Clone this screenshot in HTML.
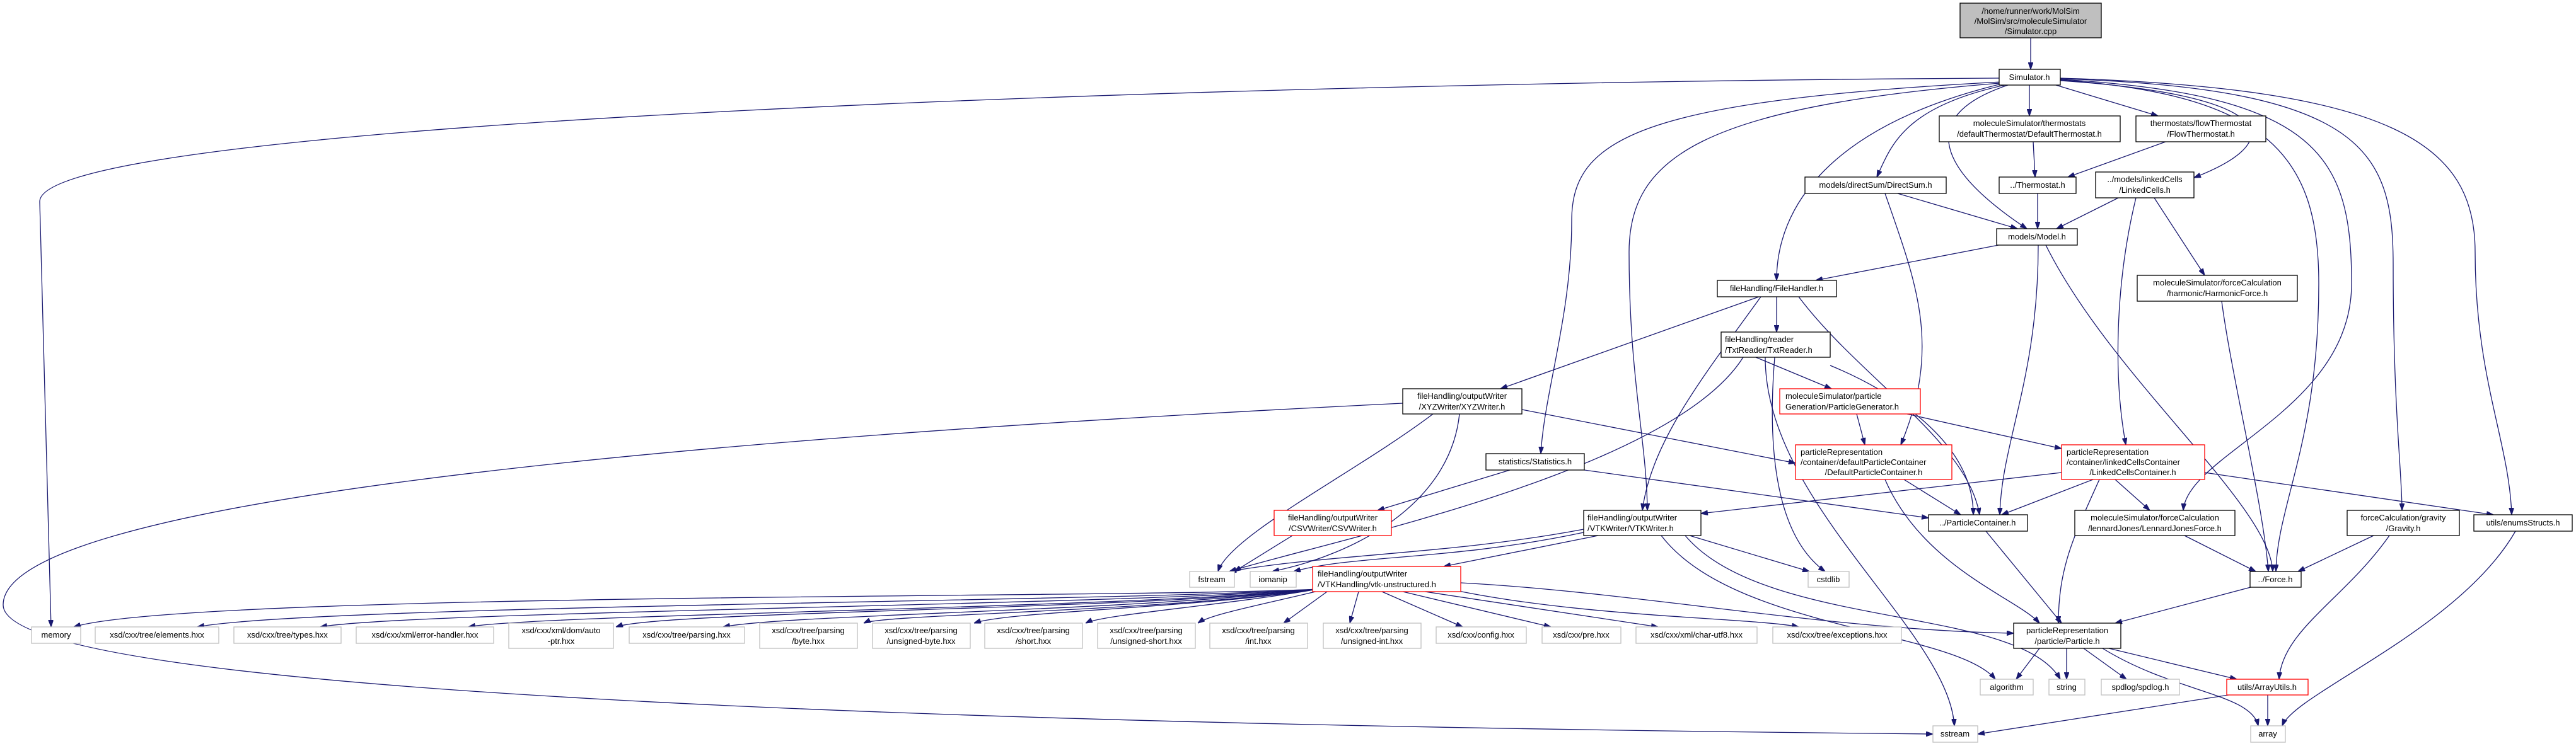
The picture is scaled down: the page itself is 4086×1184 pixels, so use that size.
<!DOCTYPE html>
<html><head><meta charset="utf-8"><style>
html,body{margin:0;padding:0;background:#fff;}
svg{display:block;}
text{font-family:"Liberation Sans",sans-serif;font-size:13px;fill:#000;}
.n{fill:#fff;stroke:#000;stroke-width:1.3}
.g{fill:#fff;stroke:#bfbfbf;stroke-width:1.3}
.r{fill:#fff;stroke:#ff0000;stroke-width:1.3}
.e path{fill:none;stroke:#191970;stroke-width:1.3;marker-end:url(#a)}
</style></head><body>
<svg width="4086" height="1184" viewBox="0 0 4086 1184" xmlns="http://www.w3.org/2000/svg">
<defs><marker id="a" viewBox="0 0 10 7" refX="10" refY="3.5" markerWidth="11" markerHeight="8" markerUnits="userSpaceOnUse" orient="auto"><path d="M0,0 L10,3.5 L0,7 z" fill="#191970" stroke="#191970"/></marker></defs>
<g class="e">
<path d="M3221 60 L3221 110"/>
<path d="M3171 124 C2000 130, 63 190, 63 320 L81 995"/>
<path d="M3175 130 C2600 160, 2493 220, 2493 350 C2493 500, 2450 620, 2444 720"/>
<path d="M3172 132 C2700 170, 2584 250, 2584 400 C2584 600, 2612 700, 2613 810"/>
<path d="M3175 133 C2900 200, 2818 330, 2818 445"/>
<path d="M3180 135 C3020 170, 3000 230, 2977 281"/>
<path d="M3185 135 C3050 180, 3060 260, 3215 363"/>
<path d="M3219 135 L3219 184"/>
<path d="M3261 135 L3423 184"/>
<path d="M3268 128 C3600 150, 3640 220, 3480 282"/>
<path d="M3268 127 C3600 150, 3678 250, 3678 450 C3678 700, 3612 800, 3610 907"/>
<path d="M3268 126 C3680 150, 3730 250, 3730 450 C3730 650, 3470 720, 3463 810"/>
<path d="M3268 125 C3750 140, 3796 240, 3796 420 C3796 650, 3810 750, 3810 810"/>
<path d="M3268 124 C3800 140, 3926 230, 3926 400 C3926 600, 3980 700, 3984 817"/>
<path d="M3225 225 L3228 281"/>
<path d="M3435 225 L3280 281"/>
<path d="M3232 307 L3232 363"/>
<path d="M3010 307 L3200 363"/>
<path d="M2990 307 C3040 450, 3080 550, 3015 706"/>
<path d="M3360 314 L3262 363"/>
<path d="M3388 314 C3355 450, 3352 600, 3372 706"/>
<path d="M3417 314 L3497 437"/>
<path d="M3524 478 C3540 600, 3590 800, 3598 907"/>
<path d="M3170 389 L2880 445"/>
<path d="M3233 389 C3233 600, 3175 700, 3172 817"/>
<path d="M3245 389 C3350 600, 3600 800, 3605 907"/>
<path d="M2818 471 L2818 527"/>
<path d="M2790 471 L2380 617"/>
<path d="M2793 471 C2700 600, 2620 700, 2605 810"/>
<path d="M2853 471 C2950 600, 3120 700, 3140 817"/>
<path d="M2765 567 C2650 750, 2100 860, 1950 907"/>
<path d="M2785 567 L2905 617"/>
<path d="M2815 567 C2800 750, 2830 860, 2895 907"/>
<path d="M2800 567 C2800 800, 3090 1000, 3100 1152"/>
<path d="M2903 580 C3000 620, 3130 700, 3130 817"/>
<path d="M2273 657 C2150 750, 1950 850, 1932 907"/>
<path d="M2315 657 C2300 800, 2150 880, 2018 907"/>
<path d="M2414 650 L2848 735"/>
<path d="M2225 640 C1000 700, 5 800, 5 960 C5 1100, 1500 1150, 3066 1165"/>
<path d="M2945 657 L2958 706"/>
<path d="M3025 657 L3270 712"/>
<path d="M2395 746 L2185 810"/>
<path d="M2513 746 L3059 822"/>
<path d="M2050 850 L1958 907"/>
<path d="M3020 761 L3110 817"/>
<path d="M2990 761 C3050 900, 3200 950, 3235 989"/>
<path d="M3270 750 L2698 815"/>
<path d="M3320 761 L3175 817"/>
<path d="M3355 761 L3410 810"/>
<path d="M3330 761 C3290 850, 3265 900, 3265 989"/>
<path d="M3497 750 L3955 817"/>
<path d="M2512 840 C2300 880, 2100 880, 1950 907"/>
<path d="M2512 845 C2300 890, 2150 880, 2052 907"/>
<path d="M2535 850 L2290 899"/>
<path d="M2635 850 C2750 1000, 3100 1000, 3165 1078"/>
<path d="M2673 850 C2800 1000, 3200 960, 3268 1078"/>
<path d="M2680 850 L2870 907"/>
<path d="M2317 925 C2600 940, 2900 1000, 3194 1005"/>
<path d="M3150 843 L3270 989"/>
<path d="M3465 850 L3578 907"/>
<path d="M3765 850 L3645 907"/>
<path d="M3790 850 C3720 950, 3620 1000, 3615 1078"/>
<path d="M3990 843 C3900 1000, 3640 1100, 3620 1152"/>
<path d="M3570 932 L3355 989"/>
<path d="M3235 1029 L3198 1078"/>
<path d="M3278 1029 L3278 1078"/>
<path d="M3305 1029 L3373 1078"/>
<path d="M3345 1029 L3548 1078"/>
<path d="M3335 1029 C3450 1100, 3570 1100, 3582 1152"/>
<path d="M3535 1103 L3137 1165"/>
<path d="M3597 1103 L3597 1152"/>
<path d="M2090 935 C1800 950, 300 940, 117 995"/>
<path d="M2090 935 C1800 955, 500 960, 313 995"/>
<path d="M2090 935 C1800 960, 650 970, 508 995"/>
<path d="M2090 935 C1800 965, 850 975, 743 995"/>
<path d="M2090 935 C1800 968, 1050 970, 977 995"/>
<path d="M2090 935 C1800 970, 1250 975, 1147 995"/>
<path d="M2090 935 C1850 970, 1400 975, 1370 989"/>
<path d="M2090 935 C1900 965, 1600 970, 1545 989"/>
<path d="M2090 935 C1950 960, 1750 975, 1722 989"/>
<path d="M2095 937 C2000 960, 1920 975, 1900 989"/>
<path d="M2105 939 L2036 989"/>
<path d="M2155 939 L2141 989"/>
<path d="M2192 939 L2320 995"/>
<path d="M2225 939 L2460 995"/>
<path d="M2260 939 L2630 995"/>
<path d="M2290 933 C2500 980, 2780 980, 2853 995"/>
</g>
<g>
<rect x="3109" y="5" width="224" height="55" fill="#bfbfbf" stroke="#000" stroke-width="1.3"/>
<text x="3221" y="22" text-anchor="middle">/home/runner/work/MolSim</text><text x="3221" y="38" text-anchor="middle">/MolSim/src/moleculeSimulator</text><text x="3221" y="54" text-anchor="middle">/Simulator.cpp</text>
<rect class="n" x="3171" y="110" width="97" height="25"/><text x="3219" y="127" text-anchor="middle">Simulator.h</text>
<rect class="n" x="3076" y="184" width="287" height="41"/><text x="3219" y="200" text-anchor="middle">moleculeSimulator/thermostats</text><text x="3219" y="217" text-anchor="middle">/defaultThermostat/DefaultThermostat.h</text>
<rect class="n" x="3388" y="184" width="206" height="41"/><text x="3491" y="200" text-anchor="middle">thermostats/flowThermostat</text><text x="3491" y="217" text-anchor="middle">/FlowThermostat.h</text>
<rect class="n" x="2863" y="281" width="224" height="26"/><text x="2975" y="298" text-anchor="middle">models/directSum/DirectSum.h</text>
<rect class="n" x="3171" y="281" width="122" height="26"/><text x="3232" y="298" text-anchor="middle">../Thermostat.h</text>
<rect class="n" x="3324" y="273" width="156" height="41"/><text x="3402" y="289" text-anchor="middle">../models/linkedCells</text><text x="3402" y="306" text-anchor="middle">/LinkedCells.h</text>
<rect class="n" x="3167" y="363" width="128" height="26"/><text x="3231" y="380" text-anchor="middle">models/Model.h</text>
<rect class="n" x="2724" y="445" width="189" height="26"/><text x="2818" y="462" text-anchor="middle">fileHandling/FileHandler.h</text>
<rect class="n" x="3390" y="437" width="254" height="41"/><text x="3517" y="453" text-anchor="middle">moleculeSimulator/forceCalculation</text><text x="3517" y="470" text-anchor="middle">/harmonic/HarmonicForce.h</text>
<rect class="n" x="2730" y="527" width="173" height="40"/><text x="2736" y="543">fileHandling/reader</text><text x="2736" y="560">/TxtReader/TxtReader.h</text>
<rect class="n" x="2225" y="617" width="189" height="40"/><text x="2319" y="633" text-anchor="middle">fileHandling/outputWriter</text><text x="2319" y="650" text-anchor="middle">/XYZWriter/XYZWriter.h</text>
<rect class="r" x="2823" y="617" width="223" height="40"/><text x="2832" y="633">moleculeSimulator/particle</text><text x="2832" y="650">Generation/ParticleGenerator.h</text>
<rect class="n" x="2357" y="720" width="156" height="26"/><text x="2435" y="737" text-anchor="middle">statistics/Statistics.h</text>
<rect class="r" x="2848" y="706" width="248" height="55"/><text x="2856" y="722">particleRepresentation</text><text x="2856" y="738">/container/defaultParticleContainer</text><text x="2972" y="754" text-anchor="middle">/DefaultParticleContainer.h</text>
<rect class="r" x="3270" y="706" width="227" height="55"/><text x="3278" y="722">particleRepresentation</text><text x="3278" y="738">/container/linkedCellsContainer</text><text x="3383" y="754" text-anchor="middle">/LinkedCellsContainer.h</text>
<rect class="r" x="2021" y="810" width="186" height="40"/><text x="2114" y="826" text-anchor="middle">fileHandling/outputWriter</text><text x="2114" y="843" text-anchor="middle">/CSVWriter/CSVWriter.h</text>
<rect class="n" x="2512" y="810" width="186" height="40"/><text x="2518" y="826">fileHandling/outputWriter</text><text x="2518" y="843">/VTKWriter/VTKWriter.h</text>
<rect class="n" x="3059" y="817" width="157" height="26"/><text x="3137" y="834" text-anchor="middle">../ParticleContainer.h</text>
<rect class="n" x="3291" y="810" width="254" height="40"/><text x="3418" y="826" text-anchor="middle">moleculeSimulator/forceCalculation</text><text x="3418" y="843" text-anchor="middle">/lennardJones/LennardJonesForce.h</text>
<rect class="n" x="3723" y="810" width="178" height="40"/><text x="3812" y="826" text-anchor="middle">forceCalculation/gravity</text><text x="3812" y="843" text-anchor="middle">/Gravity.h</text>
<rect class="n" x="3924" y="817" width="156" height="26"/><text x="4002" y="834" text-anchor="middle">utils/enumsStructs.h</text>
<rect class="g" x="1887" y="907" width="71" height="25"/><text x="1922" y="924" text-anchor="middle">fstream</text>
<rect class="g" x="1983" y="907" width="73" height="25"/><text x="2019" y="924" text-anchor="middle">iomanip</text>
<rect class="g" x="2868" y="907" width="65" height="25"/><text x="2900" y="924" text-anchor="middle">cstdlib</text>
<rect class="n" x="3569" y="907" width="81" height="25"/><text x="3609" y="924" text-anchor="middle">../Force.h</text>
<rect class="r" x="2082" y="899" width="235" height="40"/><text x="2090" y="915">fileHandling/outputWriter</text><text x="2090" y="932">/VTKHandling/vtk-unstructured.h</text>
<rect class="g" x="50" y="995" width="78" height="26"/><text x="89" y="1012" text-anchor="middle">memory</text>
<rect class="g" x="151" y="995" width="196" height="26"/><text x="249" y="1012" text-anchor="middle">xsd/cxx/tree/elements.hxx</text>
<rect class="g" x="371" y="995" width="170" height="26"/><text x="456" y="1012" text-anchor="middle">xsd/cxx/tree/types.hxx</text>
<rect class="g" x="565" y="995" width="218" height="26"/><text x="674" y="1012" text-anchor="middle">xsd/cxx/xml/error-handler.hxx</text>
<rect class="g" x="807" y="989" width="166" height="40"/><text x="890" y="1005" text-anchor="middle">xsd/cxx/xml/dom/auto</text><text x="890" y="1022" text-anchor="middle">-ptr.hxx</text>
<rect class="g" x="998" y="995" width="183" height="26"/><text x="1089" y="1012" text-anchor="middle">xsd/cxx/tree/parsing.hxx</text>
<rect class="g" x="1205" y="989" width="155" height="40"/><text x="1282" y="1005" text-anchor="middle">xsd/cxx/tree/parsing</text><text x="1282" y="1022" text-anchor="middle">/byte.hxx</text>
<rect class="g" x="1384" y="989" width="155" height="40"/><text x="1461" y="1005" text-anchor="middle">xsd/cxx/tree/parsing</text><text x="1461" y="1022" text-anchor="middle">/unsigned-byte.hxx</text>
<rect class="g" x="1562" y="989" width="155" height="40"/><text x="1639" y="1005" text-anchor="middle">xsd/cxx/tree/parsing</text><text x="1639" y="1022" text-anchor="middle">/short.hxx</text>
<rect class="g" x="1741" y="989" width="155" height="40"/><text x="1818" y="1005" text-anchor="middle">xsd/cxx/tree/parsing</text><text x="1818" y="1022" text-anchor="middle">/unsigned-short.hxx</text>
<rect class="g" x="1919" y="989" width="155" height="40"/><text x="1996" y="1005" text-anchor="middle">xsd/cxx/tree/parsing</text><text x="1996" y="1022" text-anchor="middle">/int.hxx</text>
<rect class="g" x="2099" y="989" width="155" height="40"/><text x="2176" y="1005" text-anchor="middle">xsd/cxx/tree/parsing</text><text x="2176" y="1022" text-anchor="middle">/unsigned-int.hxx</text>
<rect class="g" x="2278" y="995" width="143" height="26"/><text x="2349" y="1012" text-anchor="middle">xsd/cxx/config.hxx</text>
<rect class="g" x="2446" y="995" width="125" height="26"/><text x="2508" y="1012" text-anchor="middle">xsd/cxx/pre.hxx</text>
<rect class="g" x="2595" y="995" width="192" height="26"/><text x="2691" y="1012" text-anchor="middle">xsd/cxx/xml/char-utf8.hxx</text>
<rect class="g" x="2812" y="995" width="204" height="26"/><text x="2914" y="1012" text-anchor="middle">xsd/cxx/tree/exceptions.hxx</text>
<rect class="n" x="3194" y="989" width="170" height="40"/><text x="3279" y="1005" text-anchor="middle">particleRepresentation</text><text x="3279" y="1022" text-anchor="middle">/particle/Particle.h</text>
<rect class="g" x="3141" y="1078" width="84" height="25"/><text x="3183" y="1095" text-anchor="middle">algorithm</text>
<rect class="g" x="3250" y="1078" width="57" height="25"/><text x="3278" y="1095" text-anchor="middle">string</text>
<rect class="g" x="3333" y="1078" width="124" height="25"/><text x="3395" y="1095" text-anchor="middle">spdlog/spdlog.h</text>
<rect class="r" x="3532" y="1078" width="129" height="25"/><text x="3596" y="1095" text-anchor="middle">utils/ArrayUtils.h</text>
<rect class="g" x="3066" y="1152" width="71" height="26"/><text x="3101" y="1169" text-anchor="middle">sstream</text>
<rect class="g" x="3570" y="1152" width="55" height="26"/><text x="3597" y="1169" text-anchor="middle">array</text>
</g>
</svg>
</body></html>
